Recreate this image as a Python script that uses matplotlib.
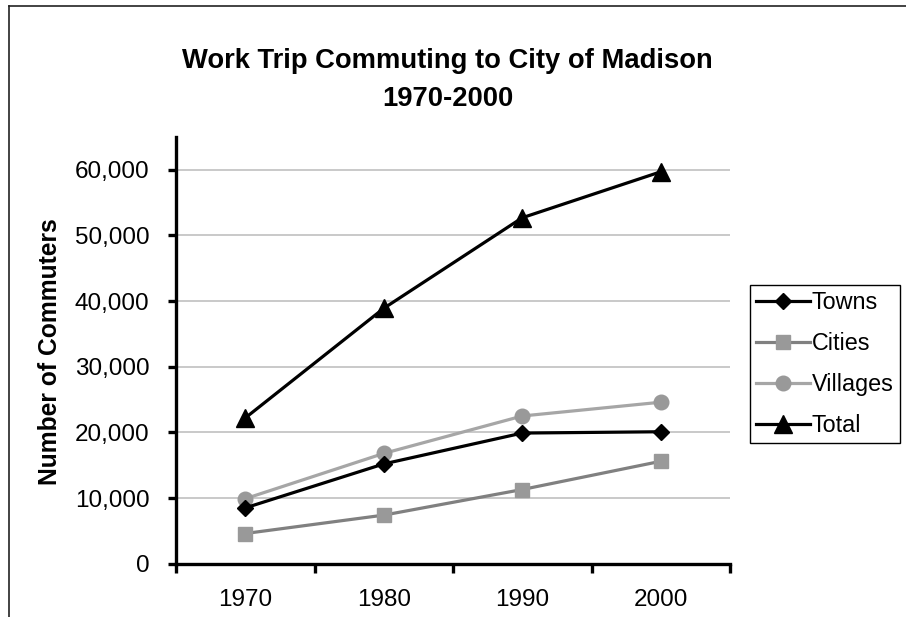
import matplotlib
matplotlib.use('Agg')
import matplotlib.pyplot as plt
from matplotlib.lines import Line2D
from matplotlib.ticker import FuncFormatter, FixedLocator

plt.rcParams['font.family'] = ['Liberation Sans', 'DejaVu Sans']

# data
years = ['1970', '1980', '1990', '2000']
towns = [8500, 15200, 19900, 20100]
cities = [4600, 7400, 11300, 15600]
villages = [9900, 16800, 22500, 24600]
total = [22200, 38900, 52700, 59700]

fig = plt.figure(figsize=(9.06, 6.17), dpi=100)
ax = fig.add_axes([176/906, 1-563.7/617, (730-176)/906, (563.7-137)/617])

x = range(len(years))
ax.plot(x, towns, color='black', lw=2.3, marker='D', ms=8.5, mfc='black', mec='black', label='Towns', zorder=4)
ax.plot(x, cities, color='#808080', lw=2.3, marker='s', ms=10.5, mfc='#999999', mec='#999999', label='Cities', zorder=3)
ax.plot(x, villages, color='#a6a6a6', lw=2.3, marker='o', ms=10.5, mfc='#999999', mec='#999999', label='Villages', zorder=3)
ax.plot(x, total, color='black', lw=2.3, marker='^', ms=12.5, mfc='black', mec='black', label='Total', zorder=4)

ax.set_xlim(-0.5, len(years) - 0.5)
ax.set_ylim(0, 65000)
ax.set_yticks(range(0, 70000, 10000))
ax.yaxis.set_major_formatter(FuncFormatter(lambda v, p: f'{int(v):,}'))
ax.set_xticks(list(x))
ax.set_xticklabels(years)
ax.xaxis.set_minor_locator(FixedLocator([i - 0.5 for i in range(len(years) + 1)]))

for v in range(10000, 70000, 10000):
    ax.axhline(v, color='#c0c0c0', lw=1.2, zorder=1)

for side in ['top', 'right']:
    ax.spines[side].set_visible(False)
for side in ['left', 'bottom']:
    ax.spines[side].set_linewidth(2.4)

ax.tick_params(axis='y', direction='out', length=6, width=2.4, pad=13, labelsize=17.5)
ax.tick_params(axis='x', which='major', length=0, pad=18, labelsize=17.5)
ax.tick_params(axis='x', which='minor', direction='out', length=6.5, width=2.4)

fig.text(0.494, 1-80/617, 'Work Trip Commuting to City of Madison\n1970-2000',
         ha='center', va='center', fontsize=19.7, fontweight='bold', linespacing=1.55)
fig.text(50/906, 1-351.7/617, 'Number of Commuters', rotation=90, ha='center', va='center',
         fontsize=17.7, fontweight='bold')

leg = ax.legend(loc='upper left', bbox_to_anchor=(750/906, 1-285/617),
                bbox_transform=fig.transFigure, borderaxespad=0, fontsize=16.8,
                fancybox=False, framealpha=1, edgecolor='black', handlelength=2.3,
                handletextpad=0.1, labelspacing=0.78, borderpad=0.25)
leg.get_frame().set_linewidth(1.0)

# outer frame of the chart area (cropped at right and bottom)
fig.add_artist(Line2D([9/906, 9/906], [0, 1-6/617], transform=fig.transFigure, color='#222222', lw=1.2))
fig.add_artist(Line2D([9/906, 1], [1-6/617, 1-6/617], transform=fig.transFigure, color='#222222', lw=1.2))

fig.savefig('out.png', dpi=100)
